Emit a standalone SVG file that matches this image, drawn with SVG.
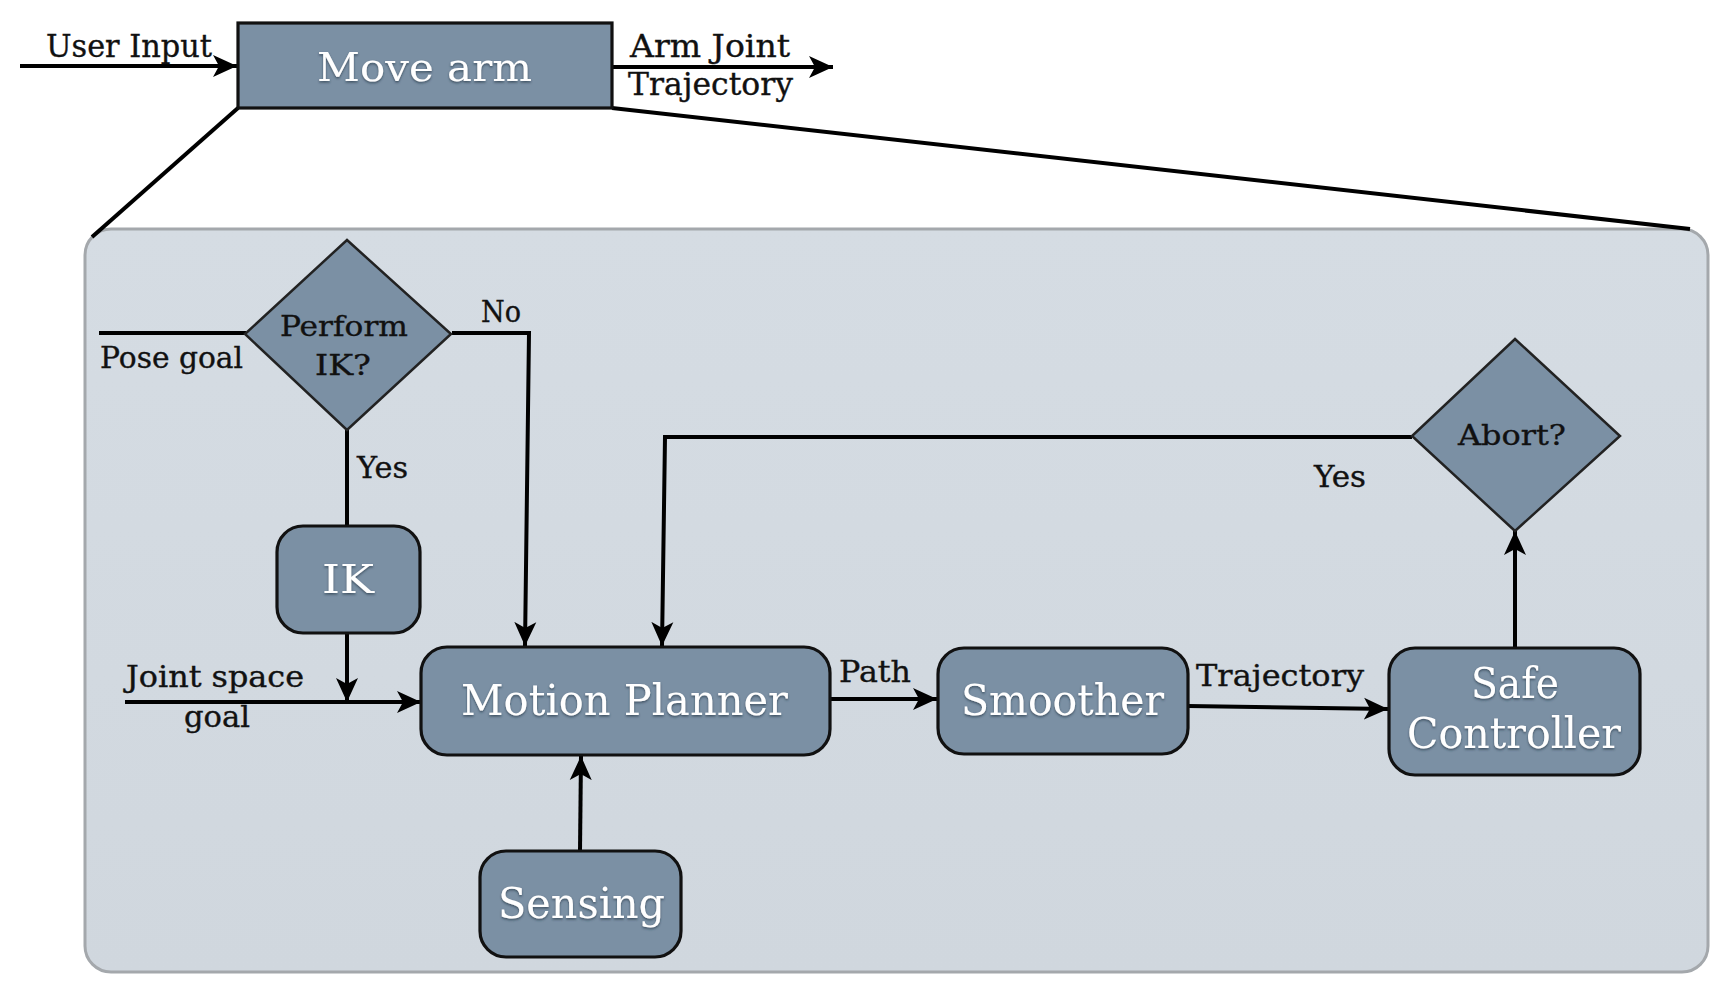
<svg xmlns="http://www.w3.org/2000/svg" width="1728" height="998" viewBox="0 0 1728 998">
<defs>
<style>
.node{fill:#7b90a4;stroke:#111;stroke-width:3.2}
.dia{fill:#7b90a4;stroke:#222;stroke-width:2.5}
.panel{stroke:#a4a8ac;stroke-width:3}
.edge{fill:none;stroke:#000;stroke-width:4}
.lbl{font-family:"DejaVu Serif","Liberation Serif",serif;fill:#111;stroke:#111;stroke-width:0.35;font-size:29px}
.top{font-size:31px}
.dl{font-size:28px}
.wt{font-family:"DejaVu Serif","Liberation Serif",serif;fill:#fff;font-size:42px;filter:url(#sh)}
</style>
<marker id="ah" markerUnits="userSpaceOnUse" markerWidth="26" markerHeight="26" viewBox="0 -13 26 26" refX="24" refY="0" orient="auto">
<path d="M0,-11 L24,0 L0,11 L6,0 z" fill="#000"/>
</marker>
<filter id="sh" x="-10%" y="-20%" width="120%" height="150%">
<feDropShadow dx="0" dy="1.5" stdDeviation="1" flood-color="#2c3a48" flood-opacity="0.75"/>
</filter>
<linearGradient id="pg" x1="0" y1="0" x2="0" y2="1">
<stop offset="0" stop-color="#d5dce3"/>
<stop offset="1" stop-color="#d0d7de"/>
</linearGradient>
</defs>
<rect width="1728" height="998" fill="#fff"/>

<g id="panel">
<rect class="panel" x="85" y="229" width="1623" height="743" rx="26" fill="url(#pg)"/>
</g>

<g id="connectors">
<line class="edge" x1="238" y1="108" x2="92" y2="237"/>
<line class="edge" x1="612" y1="108" x2="1690" y2="229"/>
<line class="edge" x1="20" y1="66" x2="237" y2="66" marker-end="url(#ah)"/>
<line class="edge" x1="612" y1="67" x2="833" y2="67" marker-end="url(#ah)"/>
<line class="edge" x1="99" y1="333" x2="246" y2="333"/>
<polyline class="edge" points="452,333 529,333 525,646" marker-end="url(#ah)"/>
<line class="edge" x1="347" y1="430" x2="347" y2="526"/>
<line class="edge" x1="347" y1="633" x2="347" y2="702" marker-end="url(#ah)"/>
<line class="edge" x1="125" y1="702" x2="421" y2="702" marker-end="url(#ah)"/>
<polyline class="edge" points="1412,437 665,437 662,646" marker-end="url(#ah)"/>
<line class="edge" x1="830" y1="699" x2="937" y2="699" marker-end="url(#ah)"/>
<line class="edge" x1="1188" y1="706" x2="1388" y2="709" marker-end="url(#ah)"/>
<line class="edge" x1="1515" y1="648" x2="1515" y2="531" marker-end="url(#ah)"/>
<line class="edge" x1="580" y1="851" x2="581" y2="756" marker-end="url(#ah)"/>
</g>

<g id="labels">
<text class="lbl top" x="46" y="57" textLength="166" lengthAdjust="spacingAndGlyphs">User Input</text>
<text class="lbl top" x="630" y="57" textLength="160" lengthAdjust="spacingAndGlyphs">Arm Joint</text>
<text class="lbl top" x="628" y="95" textLength="165" lengthAdjust="spacingAndGlyphs">Trajectory</text>
<text class="lbl" x="100" y="368" textLength="143" lengthAdjust="spacingAndGlyphs">Pose goal</text>
<text class="lbl" x="481" y="322" textLength="40" lengthAdjust="spacingAndGlyphs">No</text>
<text class="lbl" x="357" y="478" textLength="51" lengthAdjust="spacingAndGlyphs">Yes</text>
<text class="lbl" x="126" y="687" textLength="178" lengthAdjust="spacingAndGlyphs">Joint space</text>
<text class="lbl" x="184" y="727" textLength="66" lengthAdjust="spacingAndGlyphs">goal</text>
<text class="lbl" x="839" y="682" textLength="72" lengthAdjust="spacingAndGlyphs">Path</text>
<text class="lbl" x="1196" y="686" textLength="168" lengthAdjust="spacingAndGlyphs">Trajectory</text>
<text class="lbl" x="1314" y="487" textLength="52" lengthAdjust="spacingAndGlyphs">Yes</text>
</g>

<g id="move-arm">
<rect class="node" x="238" y="23" width="374" height="85"/>
<text class="wt" x="317" y="81" style="font-size:40px" textLength="215" lengthAdjust="spacingAndGlyphs">Move arm</text>
</g>

<g id="perform-ik">
<polygon class="dia" points="347,240 451,334 347,430 245,334"/>
<text class="lbl dl" x="280" y="336" textLength="128" lengthAdjust="spacingAndGlyphs">Perform</text>
<text class="lbl dl" x="315" y="375" textLength="56" lengthAdjust="spacingAndGlyphs">IK?</text>
</g>

<g id="ik">
<rect class="node" x="277" y="526" width="143" height="107" rx="26"/>
<text class="wt" x="322" y="593" style="font-size:40px" textLength="52" lengthAdjust="spacingAndGlyphs">IK</text>
</g>

<g id="motion-planner">
<rect class="node" x="421" y="647" width="409" height="108" rx="26"/>
<text class="wt" x="461" y="715" textLength="327" lengthAdjust="spacingAndGlyphs">Motion Planner</text>
</g>

<g id="smoother">
<rect class="node" x="938" y="648" width="250" height="106" rx="26"/>
<text class="wt" x="961" y="715" textLength="203" lengthAdjust="spacingAndGlyphs">Smoother</text>
</g>

<g id="safe-controller">
<rect class="node" x="1389" y="648" width="251" height="127" rx="26"/>
<text class="wt" x="1471" y="698" textLength="88" lengthAdjust="spacingAndGlyphs">Safe</text>
<text class="wt" x="1407" y="748" textLength="214" lengthAdjust="spacingAndGlyphs">Controller</text>
</g>

<g id="abort">
<polygon class="dia" points="1515,339 1620,436 1515,531 1412,436"/>
<text class="lbl dl" x="1458" y="445" textLength="108" lengthAdjust="spacingAndGlyphs">Abort?</text>
</g>

<g id="sensing">
<rect class="node" x="480" y="851" width="201" height="106" rx="26"/>
<text class="wt" x="498" y="918" textLength="167" lengthAdjust="spacingAndGlyphs">Sensing</text>
</g>
</svg>
